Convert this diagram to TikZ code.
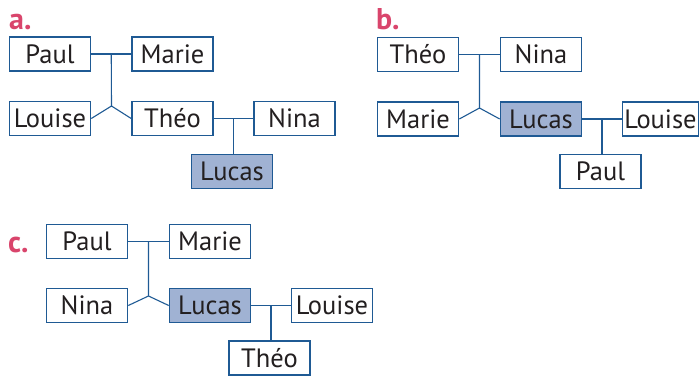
\documentclass[tikz,border=0pt]{standalone}
\usepackage{fontspec}
\setmainfont{PT Sans}
\usetikzlibrary{calc}
\definecolor{boxblue}{HTML}{1F5A94}
\definecolor{boxfill}{HTML}{A0B2D3}
\definecolor{lblred}{HTML}{D9456C}
\definecolor{txt}{HTML}{231F20}
\tikzset{
  person/.style={draw=boxblue, line width=1.6pt, minimum width=81pt, minimum height=34pt,
    inner sep=0pt, text=txt, font=\fontsize{26.5}{26.5}\selectfont, fill=white},
  me/.style={person, fill=boxfill},
  link/.style={draw=boxblue, line width=1.1pt},
  lbl/.style={text=lblred, font=\fontsize{30}{30}\selectfont\bfseries, inner sep=0pt, anchor=base west}
}
\begin{document}
\begin{tikzpicture}[x=1pt,y=-1pt]
\useasboundingbox (0,0) rectangle (700,375);
% ---- a ----
\node[lbl] (la) at (9,29) {a.};
\node[person] (aPaul) at (50,54) {Paul};
\node[person] (aMarie) at (172.5,54) {Marie};
\node[person] (aLouise) at (50,118.5) {Louise};
\node[person] (aTheo) at (172.5,118.5) {Théo};
\node[person] (aNina) at (294.5,118.5) {Nina};
\node[me] (aLucas) at (232,171.5) {Lucas};
\coordinate (aJ) at (111.5,106);
\draw[link] (aPaul.east) -- (aMarie.west);
\draw[link] ($(aPaul.east)!0.5!(aMarie.west)$) -- (aJ);
\draw[link] (aLouise.east) -- (aJ) -- (aTheo.west);
\coordinate (aM) at ($(aTheo.east)!0.5!(aNina.west)$);
\draw[link] (aTheo.east) -- (aNina.west);
\draw[link] (aM) -- (aM |- aLucas.north);
% ---- b ----
\node[lbl] (lb) at (376,29) {b.};
\node[person] (bTheo) at (418,54.5) {Théo};
\node[person] (bNina) at (541,54.5) {Nina};
\node[person] (bMarie) at (418,119) {Marie};
\node[me] (bLucas) at (541,119) {Lucas};
\node[person, minimum width=76pt] (bLouise) at (660.5,119) {Louise};
\node[person] (bPaul) at (600.5,171.5) {Paul};
\coordinate (bJ) at (479.5,108);
\draw[link] (bTheo.east) -- (bNina.west);
\draw[link] ($(bTheo.east)!0.5!(bNina.west)$) -- (bJ);
\draw[link] (bMarie.east) -- (bJ) -- (bLucas.west);
\coordinate (bM) at ($(bLucas.east)!0.5!(bLouise.west)$);
\draw[link] (bLucas.east) -- (bLouise.west);
\draw[link] (bM) -- (bM |- bPaul.north);
% ---- c ----
\node[lbl] (lc) at (8,252) {c.};
\node[person] (cPaul) at (87,241.5) {Paul};
\node[person] (cMarie) at (210,241.5) {Marie};
\node[person] (cNina) at (87,305.5) {Nina};
\node[me] (cLucas) at (210,305.5) {Lucas};
\node[person] (cLouise) at (332,305.5) {Louise};
\node[person] (cTheo) at (269.5,358) {Théo};
\coordinate (cJ) at (148.5,296);
\draw[link] (cPaul.east) -- (cMarie.west);
\draw[link] ($(cPaul.east)!0.5!(cMarie.west)$) -- (cJ);
\draw[link] (cNina.east) -- (cJ) -- (cLucas.west);
\coordinate (cM) at ($(cLucas.east)!0.5!(cLouise.west)$);
\draw[link] (cLucas.east) -- (cLouise.west);
\draw[link] (cM) -- (cM |- cTheo.north);
\end{tikzpicture}
\end{document}
